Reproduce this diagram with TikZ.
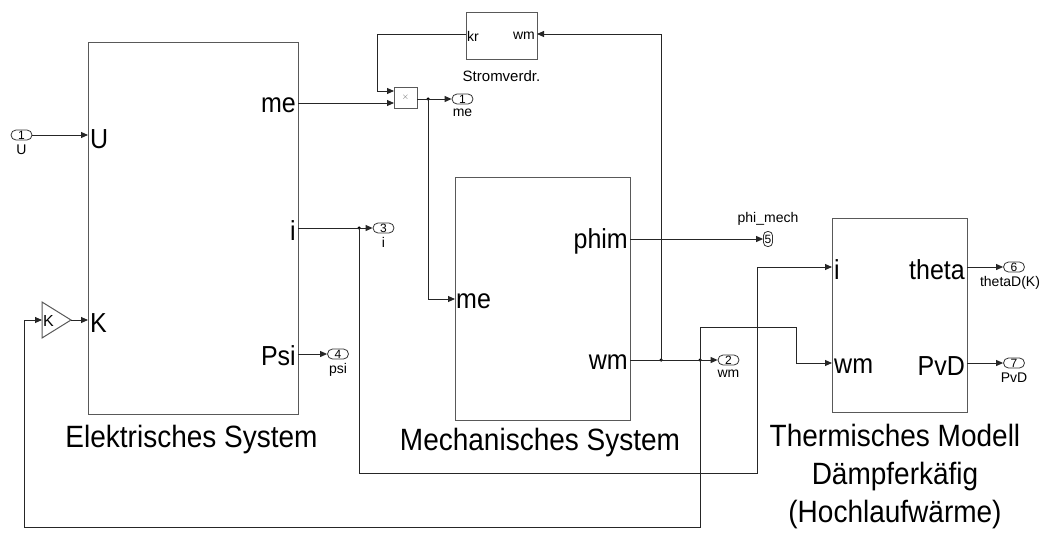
\documentclass[tikz,border=0pt]{standalone}
\usepackage{fontspec}
\setmainfont{Liberation Sans}
\usetikzlibrary{arrows.meta}
\newcommand{\tall}[1]{\scalebox{1}[1.1]{#1}}
\begin{document}
\begin{tikzpicture}[x=1pt,y=-1pt,
  blk/.style={draw=black!65, line width=1pt, fill=white, inner sep=0pt},
  wire/.style={draw=black!85, line width=0.9pt},
  arr/.style={wire, -{Triangle[length=7pt,width=6pt]}},
  port/.style={draw=black!80, line width=0.8pt, rounded corners=5pt, minimum width=21, minimum height=10, inner sep=0pt, font=\fontsize{12}{12}\selectfont},
  plbl/.style={inner sep=0pt, font=\fontsize{14}{14}\selectfont},
  big/.style={inner sep=0pt, font=\fontsize{25}{28}\selectfont},
  ttl/.style={inner sep=0pt, font=\fontsize{28}{38}\selectfont, align=center},
  small/.style={inner sep=0pt, font=\fontsize{14}{14}\selectfont},
  dot/.style={circle, fill=black, inner sep=0pt, minimum size=3.5pt}]
\useasboundingbox (0,0) rectangle (1050,533);

% blocks
\node[blk, minimum width=210, minimum height=372] (elek) at (193,228) {};
\node[blk, minimum width=175, minimum height=243] (mech) at (542.5,298.5) {};
\node[blk, minimum width=135, minimum height=194] (therm) at (899.5,315) {};
\node[blk, minimum width=71, minimum height=47] (strom) at (501.5,35.5) {};
\node[blk, minimum width=23, minimum height=21, font=\fontsize{9}{9}\selectfont, text=black!60] (mult) at (405.5,97.5) {$\times$};

% gain
\draw[blk] (42,302) -- (71,320) -- (42,338) -- cycle;
\coordinate (gin) at (42,320);
\coordinate (gout) at (71,320);
\node[font=\fontsize{16}{16}\selectfont, inner sep=0pt, anchor=west] (gK) at (43,321) {K};

% block port labels
\node[big, anchor=west] (lU) at (90,139) {\tall{U}};
\node[big, anchor=west] (lK) at (90,323) {\tall{K}};
\node[big, anchor=east] (lme) at (296,105) {\tall{me}};
\node[big, anchor=east] (li) at (296,231) {\tall{i}};
\node[big, anchor=east] (lpsi) at (296,356) {\tall{Psi}};
\node[big, anchor=west] (lmme) at (456,301) {\tall{me}};
\node[big, anchor=east] (lphim) at (628,241) {\tall{phim}};
\node[big, anchor=east] (lmwm) at (628,362) {\tall{wm}};
\node[big, anchor=west] (lti) at (834,270) {\tall{i}};
\node[big, anchor=west] (ltwm) at (834,366) {\tall{wm}};
\node[big, anchor=east] (ltheta) at (965,270) {\tall{theta}};
\node[big, anchor=east] (lpvd) at (965,366) {\tall{PvD}};
\node[small, anchor=west] (lkr) at (467,36) {kr};
\node[small, anchor=east] (lswm) at (535,36) {wm};

% titles
\node[ttl, anchor=base] (tElek) at (191.5,447) {\tall{Elektrisches System}};
\node[ttl, anchor=base] (tMech) at (540,450) {\tall{Mechanisches System}};
\node[ttl, anchor=base] (tTh1) at (895,446) {\tall{Thermisches Modell}};
\node[ttl, anchor=base] (tTh2) at (895,484) {\tall{Dämpferkäfig}};
\node[ttl, anchor=base] (tTh3) at (895,522) {\tall{(Hochlaufwärme)}};
\node[plbl, font=\fontsize{15}{15}\selectfont, anchor=base] (tStrom) at (501.5,81) {Stromverdr.};

% ports
\node[port] (pU) at (21.5,135) {1};
\node[plbl, anchor=north] at ([yshift=-4pt]pU.south) {U};
\node[port] (p1) at (462.5,99) {1};
\node[plbl, anchor=north] at ([yshift=-4pt]p1.south) {me};
\node[port] (p3) at (383.5,228) {3};
\node[plbl, anchor=north] at ([yshift=-4pt]p3.south) {i};
\node[port] (p4) at (338,354) {4};
\node[plbl, anchor=north] at ([yshift=-4pt]p4.south) {psi};
\node[port, minimum width=9, minimum height=15, rounded corners=4pt] (p5) at (768,239) {5};
\node[plbl, anchor=south] at ([yshift=5pt]p5.north) {phi\_mech};
\node[port] (p2) at (728.5,360) {2};
\node[plbl, anchor=north] at ([yshift=-4pt]p2.south) {wm};
\node[port] (p6) at (1014,267) {6};
\node[plbl, anchor=north] at ([yshift=-4pt,xshift=-4pt]p6.south) {thetaD(K)};
\node[port] (p7) at (1014,363) {7};
\node[plbl, anchor=north] at ([yshift=-4pt]p7.south) {PvD};

% port coordinates
\coordinate (eU) at (88,135);
\coordinate (eK) at (88,320);
\coordinate (eMe) at (298,103);
\coordinate (eI) at (298,228);
\coordinate (ePsi) at (298,354);
\coordinate (mMe) at (455,299);
\coordinate (mPhim) at (630,239);
\coordinate (mWm) at (630,360);
\coordinate (tI) at (832,267);
\coordinate (tWm) at (832,363);
\coordinate (tTheta) at (967,267);
\coordinate (tPvD) at (967,363);
\coordinate (sKr) at (466,34);
\coordinate (sWm) at (537,34);
\coordinate (xIn1) at (394,91);
\coordinate (xIn2) at (394,103);
\coordinate (xOut) at (417,99);

% junctions
\node[dot] (jMe) at (428,99) {};
\node[dot] (jI) at (359,228) {};
\node[dot] (jW1) at (661,360) {};
\node[dot] (jW2) at (700,360) {};

% wires
\draw[arr] (pU.east) -- (eU);
\draw[arr] (eMe) -- (xIn2);
\draw[arr] (sKr) -- (377,34) -- (377,91) -- (xIn1);
\draw[arr] (xOut) -- (p1.west);
\draw[arr] (jMe.center) -- (428,299) -- (mMe);
\draw[arr] (eI) -- (p3.west);
\draw[arr] (jI.center) -- (359,473) -- (757,473) -- (757,267) -- (tI);
\draw[arr] (ePsi) -- (p4.west);
\draw[arr] (mPhim) -- (p5.west);
\draw[arr] (mWm) -- (p2.west);
\draw[arr] (jW1.center) -- (661,34) -- (sWm);
\draw[arr] (jW2.center) -- (700,327) -- (796,327) -- (796,363) -- (tWm);
\draw[arr] (jW2.center) -- (700,527) -- (24,527) -- (24,320) -- (gin);
\draw[arr] (gout) -- (eK);
\draw[arr] (tTheta) -- (p6.west);
\draw[arr] (tPvD) -- (p7.west);
\end{tikzpicture}
\end{document}
